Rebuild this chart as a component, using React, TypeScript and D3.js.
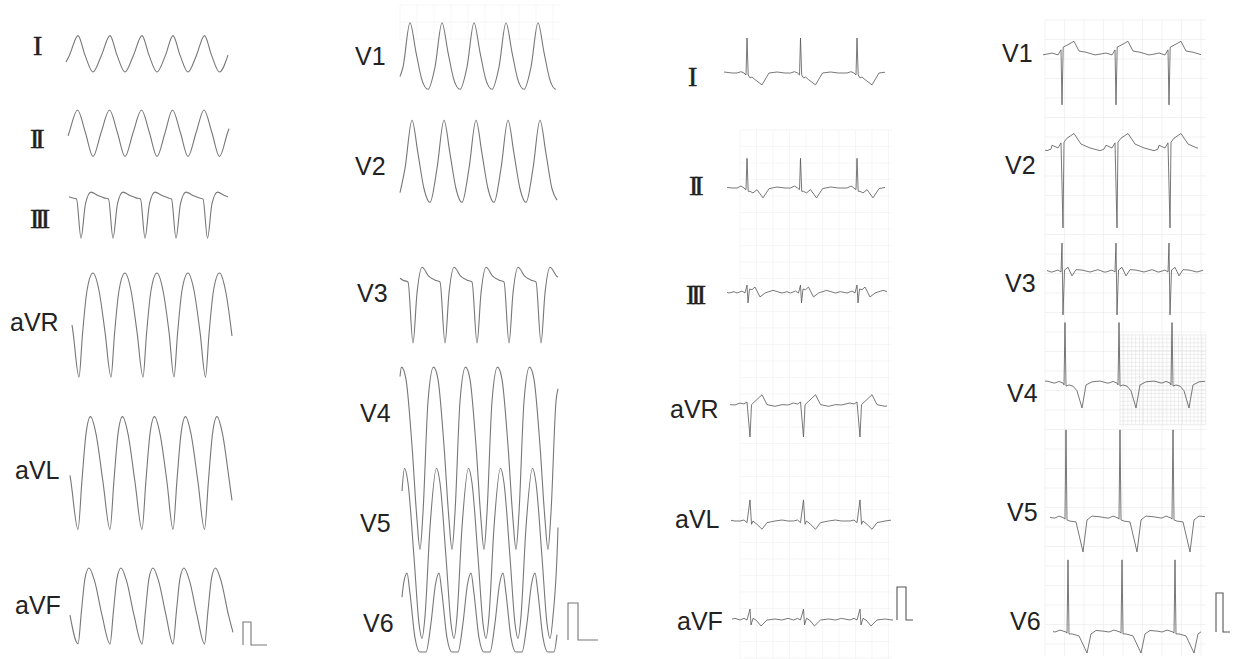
import React, { useRef, useEffect } from 'react'
import * as d3 from 'd3'

type Pt = [number, number]

// lead names
const limbLeads = ['I', 'II', 'III', 'aVR', 'aVL', 'aVF']
const chestLeads = ['V1', 'V2', 'V3', 'V4', 'V5', 'V6']

// beat times (s) for the four strips
const beatsA = [-0.2, 0.12, 0.44, 0.76, 1.07, 1.385, 1.7]
const beatsB = [-0.22, 0.1, 0.42, 0.74, 1.06, 1.38, 1.7]
const beatsC = [-0.31, 0.22, 0.755, 1.32, 1.86]
const beatsD = [-0.36, 0.17, 0.71, 1.24, 1.78]

// one cycle per lead: [offset from beat (s), amplitude (mV)]
const limbVT: Pt[][] = [
  [[0, 0.8], [0.07, -0.05], [0.15, -0.78], [0.235, -0.05]],
  [[-0.005, 1.0], [0.075, 0], [0.15, -1.02], [0.23, 0]],
  [[-0.015, 0], [0.03, -1.7], [0.075, -0.2], [0.13, 0.3], [0.2, 0.15], [0.26, 0.05]],
  [[0.01, -2.26], [0.045, -0.4], [0.09, 1.5], [0.15, 2.26], [0.21, 1.5], [0.27, -0.3]],
  [[0, -2.45], [0.04, -0.3], [0.08, 1.7], [0.125, 2.45], [0.18, 1.7], [0.25, -0.4]],
  [[0, -1.65], [0.035, -0.2], [0.07, 1.2], [0.11, 1.65], [0.165, 1.1], [0.24, -0.4]],
]
const chestVT: Pt[][] = [
  [[0, 0.9], [0.06, 0.1], [0.12, -0.65], [0.18, -0.9], [0.25, -0.3]],
  [[0.02, 1.1], [0.08, 0.2], [0.14, -0.75], [0.2, -1.12], [0.27, -0.2]],
  [[-0.02, 0], [0.03, -1.65], [0.07, -0.3], [0.12, 0.4], [0.19, 0.15], [0.25, 0.05]],
  [[-0.04, 1.1], [0.02, -0.7], [0.07, -2.7], [0.1, -3.5], [0.13, -2.5], [0.18, 0.5], [0.235, 1.43]],
  [[-0.02, 1.0], [0.04, -1.0], [0.09, -2.8], [0.12, -3.2], [0.15, -2.6], [0.2, -0.2], [0.265, 1.4]],
  [[0, 0.5], [0.05, -0.7], [0.1, -1.08], [0.16, -1.08], [0.21, -0.3], [0.255, 0.75], [0.29, 1.05]],
]
const limbSinus: Pt[][] = [
  [[-0.1, 0], [-0.06, 0.04], [-0.03, 0], [-0.01, -0.06], [0, 1.06], [0.012, -0.06], [0.03, -0.15], [0.05, -0.12], [0.08, -0.2], [0.15, -0.36], [0.22, 0], [0.3, 0.03], [0.38, 0]],
  [[-0.1, 0], [-0.06, 0.06], [-0.03, 0], [-0.01, -0.05], [0, 0.9], [0.012, -0.1], [0.03, -0.1], [0.06, -0.15], [0.1, -0.05], [0.16, -0.3], [0.22, -0.02], [0.3, 0.03], [0.38, 0]],
  [[-0.1, 0], [-0.05, 0.06], [-0.02, 0], [0, 0.24], [0.01, -0.3], [0.025, 0.12], [0.05, 0.1], [0.08, 0.18], [0.13, -0.12], [0.18, 0], [0.26, 0.08], [0.35, 0], [0.4, 0.04]],
  [[-0.07, 0], [-0.03, -0.03], [0, 0.03], [0.03, -1.03], [0.045, -0.05], [0.08, 0.05], [0.15, 0.25], [0.2, -0.05], [0.28, -0.1], [0.35, -0.05], [0.41, -0.06]],
  [[-0.07, 0], [-0.03, 0.03], [0, -0.05], [0.03, 0.64], [0.045, -0.1], [0.06, 0], [0.1, -0.1], [0.15, -0.25], [0.2, -0.05], [0.28, 0], [0.35, 0.03], [0.41, 0]],
  [[-0.07, 0], [-0.03, 0.05], [0, 0], [0.03, 0.33], [0.04, -0.15], [0.06, 0.05], [0.09, 0], [0.14, -0.18], [0.2, 0], [0.28, 0.03], [0.35, 0], [0.41, 0.05]],
]
const chestSinus: Pt[][] = [
  [[-0.1, 0], [-0.04, -0.05], [-0.01, 0.08], [0, -1.33], [0.012, 0.15], [0.05, 0.2], [0.12, 0.3], [0.17, 0.05], [0.24, 0.02], [0.33, -0.05], [0.4, -0.02]],
  [[-0.1, 0.02], [-0.04, -0.05], [-0.01, 0.08], [0.01, -2.1], [0.02, 0.1], [0.05, 0.2], [0.12, 0.32], [0.19, 0.05], [0.28, -0.05], [0.38, -0.12], [0.42, -0.08]],
  [[-0.1, 0], [-0.04, 0.05], [-0.01, 0], [0, 0.74], [0.01, -1.1], [0.025, 0.05], [0.06, 0.12], [0.1, -0.1], [0.14, 0.06], [0.2, 0.05], [0.28, 0], [0.36, 0.06], [0.42, 0]],
  [[-0.07, 0], [-0.03, 0.04], [0.01, 0], [0.02, -0.05], [0.03, 1.55], [0.04, -0.08], [0.07, -0.05], [0.11, -0.08], [0.15, -0.2], [0.2, -0.64], [0.24, -0.05], [0.3, 0.03], [0.38, 0.05], [0.45, 0]],
  [[-0.07, 0], [-0.03, 0.05], [0.02, 0], [0.03, -0.03], [0.04, 2.26], [0.05, -0.05], [0.08, -0.08], [0.14, -0.1], [0.21, -0.87], [0.25, -0.05], [0.3, 0.05], [0.38, 0.03], [0.45, 0]],
  [[-0.07, 0], [-0.02, 0.05], [0.04, 0], [0.05, -0.03], [0.06, 1.85], [0.07, -0.05], [0.1, -0.05], [0.17, -0.1], [0.25, -0.54], [0.29, -0.05], [0.34, 0.04], [0.42, 0.02]],
]

// recorded span of each lead (s)
const limbVTWin: Pt[] = [[0, 1.62], [0.02, 1.63], [0.03, 1.62], [0.06, 1.66], [0.04, 1.66], [0.04, 1.67]]
const chestVTWin: Pt[] = [[0, 1.56], [0, 1.57], [0, 1.58], [0, 1.58], [0.02, 1.58], [0.02, 1.57]]
const limbSinusWin: Pt[] = [[-0.01, 1.6], [0.02, 1.6], [0.02, 1.62], [0.05, 1.62], [0.06, 1.66], [0.07, 1.68]]
const chestSinusWin: Pt[] = [[-0.02, 1.56], [0, 1.53], [0.02, 1.58], [0, 1.6], [0.05, 1.6], [0.08, 1.56]]

// 1 mV calibration pulses
const calA: Pt[] = [[0, 0], [0, 1], [0.08, 1], [0.08, 0], [0.24, 0]]
const calB: Pt[] = [[0, 0], [0, 1], [0.1, 1], [0.1, 0], [0.3, 0]]
const calC: Pt[] = [[0, 0], [0, 1], [0.09, 1], [0.09, 0], [0.16, 0]]
const calD: Pt[] = [[0, 0], [0, 1], [0.07, 1], [0.07, 0], [0.14, 0]]

const SEC = 100 // px per second

const panels = [
  {
    leads: limbLeads, beats: beatsA, tpl: limbVT, win: limbVTWin, cal: calA,
    x0: 66, mv: 23, smooth: true, stroke: '#777',
    base: [54, 133, 199, 325, 473, 606],
    lx: [33, 30, 30, 10, 15, 15], ly: [55, 148, 228, 331, 479, 614],
    calT: 1.77, calY: 645,
  },
  {
    leads: chestLeads, beats: beatsB, tpl: chestVT, win: chestVTWin, cal: calB,
    x0: 400, mv: 37, smooth: true, stroke: '#777',
    base: [56, 161, 282, 420, 520, 612],
    lx: [355, 355, 357, 360, 360, 363], ly: [65, 175, 302, 422, 532, 632],
    calT: 1.68, calY: 640,
  },
  {
    leads: limbLeads, beats: beatsC, tpl: limbSinus, win: limbSinusWin, cal: calC,
    x0: 725, mv: 33, smooth: false, stroke: '#555',
    base: [73, 188, 293, 403, 521, 620],
    lx: [688, 689, 686, 670, 675, 677], ly: [86, 195, 304, 418, 528, 630],
    calT: 1.72, calY: 620,
  },
  {
    leads: chestLeads, beats: beatsD, tpl: chestSinus, win: chestSinusWin, cal: calD,
    x0: 1045, mv: 39, smooth: false, stroke: '#555',
    base: [53, 146, 272, 383, 518, 632],
    lx: [1002, 1005, 1005, 1007, 1007, 1010], ly: [62, 174, 292, 402, 521, 630],
    calT: 1.71, calY: 632,
  },
]

const buildTrace = (beats: number[], tpl: Pt[], [t0, t1]: Pt): Pt[] => {
  const pts: Pt[] = beats
    .flatMap((b) => tpl.map(([dt, v]) => [b + dt, v] as Pt))
    .sort((a, b) => a[0] - b[0])
  const lerp = (p: Pt, q: Pt, t: number) => p[1] + ((q[1] - p[1]) * (t - p[0])) / (q[0] - p[0])
  const out: Pt[] = []
  for (let i = 0; i < pts.length; i++) {
    const p = pts[i]
    const q = pts[i + 1]
    if (p[0] >= t0 && p[0] <= t1) out.push(p)
    if (q) {
      if (p[0] < t0 && q[0] > t0) out.push([t0, lerp(p, q, t0)])
      if (p[0] < t1 && q[0] > t1) out.push([t1, lerp(p, q, t1)])
    }
  }
  return out
}

const Ecg = () => {
  const svgRef = useRef<SVGSVGElement>(null)

  useEffect(() => {
    const svg = d3.select(svgRef.current)
    svg.selectAll('*').remove()

    svg.append('rect').attr('width', 1234).attr('height', 659).attr('fill', '#fff')

    // faint recording paper grid
    const grid = (x1: number, x2: number, y1: number, y2: number, step: number, color: string) => {
      const g = svg.append('g').attr('stroke', color).attr('stroke-width', 0.6)
      d3.range(x1, x2, step).forEach((x) =>
        g.append('line').attr('x1', x).attr('x2', x).attr('y1', y1).attr('y2', y2),
      )
      d3.range(y1, y2, step).forEach((y) =>
        g.append('line').attr('x1', x1).attr('x2', x2).attr('y1', y).attr('y2', y),
      )
    }
    grid(740, 892, 130, 660, 16.5, '#f0f0f0')
    grid(1045, 1206, 20, 656, 19.5, '#eaeaea')
    grid(1120, 1206, 335, 425, 3.9, '#e2e2e2')
    grid(400, 560, 5, 40, 17, '#f2f2f2')

    panels.forEach((p) => {
      const x = d3.scaleLinear().domain([0, 1]).range([p.x0, p.x0 + SEC])
      const g = svg.append('g')

      p.leads.forEach((name, i) => {
        const y = d3.scaleLinear().domain([0, 1]).range([p.base[i], p.base[i] - p.mv])
        const line = d3
          .line<Pt>()
          .x((d) => x(d[0]))
          .y((d) => y(d[1]))
          .curve(p.smooth ? d3.curveMonotoneX : d3.curveLinear)

        g.append('path')
          .attr('d', line(buildTrace(p.beats, p.tpl[i], p.win[i])))
          .attr('fill', 'none')
          .attr('stroke', p.stroke)
          .attr('stroke-width', p.smooth ? 1.1 : 0.8)
          .attr('stroke-linejoin', 'round')

        const roman = /^I+$/.test(name)
        g.append('text')
          .attr('x', p.lx[i])
          .attr('y', p.ly[i])
          .text(name)
          .attr('fill', '#222')
          .attr('stroke', roman ? '#222' : 'none')
          .attr('stroke-width', roman ? 0.5 : 0)
          .style('font-family', roman ? '"Liberation Serif", serif' : '"Liberation Sans", Arial, sans-serif')
          .style('font-size', roman ? '28px' : '25px')
          .style('letter-spacing', roman ? '-4px' : '0px')
      })

      // calibration pulse
      const cy = d3.scaleLinear().domain([0, 1]).range([p.calY, p.calY - p.mv])
      const calLine = d3
        .line<Pt>()
        .x((d) => x(p.calT + d[0]))
        .y((d) => cy(d[1]))
      g.append('path')
        .attr('d', calLine(p.cal))
        .attr('fill', 'none')
        .attr('stroke', p.stroke)
        .attr('stroke-width', 1.1)
    })
  }, [])

  return (
    <svg
      ref={svgRef}
      width={1234}
      height={659}
      style={{ position: 'absolute', left: 0, top: 0, display: 'block' }}
    />
  )
}

export default function App() {
  return <Ecg />
}
